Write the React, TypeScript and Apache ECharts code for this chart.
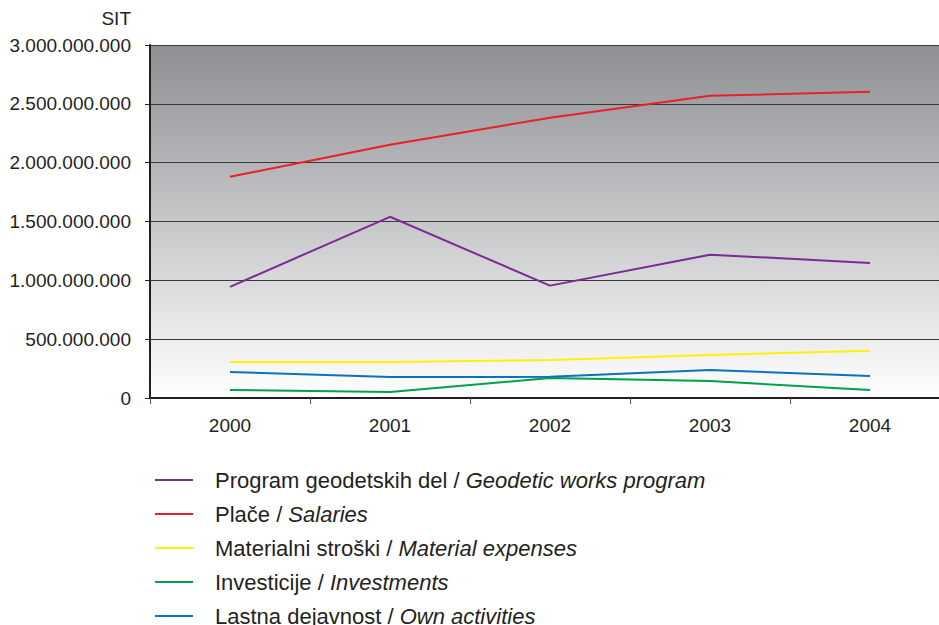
import React, { useEffect, useRef } from "react";
import * as echarts from "echarts";

const years = ["2000", "2001", "2002", "2003", "2004"];
const programGeodetic = [945e6, 1540e6, 955e6, 1218e6, 1148e6];
const salaries = [1880e6, 2152e6, 2382e6, 2568e6, 2602e6];
const material = [306e6, 306e6, 323e6, 366e6, 402e6];
const investments = [68e6, 51e6, 170e6, 144e6, 68e6];
const ownActivities = [221e6, 178e6, 180e6, 238e6, 187e6];

const legendNames = [
  ["Program geodetskih del / ", "Geodetic works program"],
  ["Plače / ", "Salaries"],
  ["Materialni stroški / ", "Material expenses"],
  ["Investicije / ", "Investments"],
  ["Lastna dejavnost / ", "Own activities"],
];
const seriesData = [programGeodetic, salaries, material, investments, ownActivities];
const colors = ["#7b2c91", "#e8202a", "#fff200", "#00a14b", "#0a72c0"];

function fmt(v: number) {
  return String(Math.round(v)).replace(/\B(?=(\d{3})+(?!\d))/g, ".");
}

export default function App() {
  const ref = useRef<HTMLDivElement>(null);
  useEffect(() => {
    const chart = echarts.init(ref.current!, null, { renderer: "svg" });
    const font = "'Liberation Sans', Arial, sans-serif";
    chart.setOption({
      animation: false,
      textStyle: { fontFamily: font },
      graphic: [
        {
          type: "text",
          x: 131,
          y: 18,
          style: {
            text: "SIT",
            fill: "#231f20",
            font: `19px ${font}`,
            align: "right",
            verticalAlign: "middle",
          },
        },
      ],
      grid: {
        left: 150,
        top: 45,
        width: 800,
        height: 353,
        containLabel: false,
        show: true,
        borderWidth: 0,
        backgroundColor: new echarts.graphic.LinearGradient(0, 0, 0, 1, [
          { offset: 0, color: "#8e8f93" },
          { offset: 1, color: "#ffffff" },
        ]),
      },
      xAxis: {
        type: "category",
        data: years,
        boundaryGap: true,
        axisLine: { lineStyle: { color: "#231f20", width: 2 } },
        axisTick: { show: true, length: 6, lineStyle: { color: "#555", width: 1 } },
        axisLabel: { color: "#231f20", fontSize: 19, margin: 18, fontFamily: font },
      },
      yAxis: {
        type: "value",
        min: 0,
        max: 3000000000,
        interval: 500000000,
        axisLine: { show: true, lineStyle: { color: "#231f20", width: 2 } },
        axisTick: { show: true, length: 5, lineStyle: { color: "#231f20", width: 1 } },
        splitLine: { show: true, lineStyle: { color: "#3a3a3a", width: 1 } },
        axisLabel: {
          color: "#231f20",
          fontSize: 19,
          margin: 19,
          fontFamily: font,
          formatter: (v: number) => fmt(v),
        },
      },
      legend: {
        orient: "vertical",
        left: 155,
        top: 469,
        height: 200,
        padding: 0,
        icon: "rect",
        itemWidth: 38,
        itemHeight: 2,
        itemGap: 12,
        data: legendNames.map((n) => n[0] + n[1]),
        formatter: (name: string) => {
          const item = legendNames.find((n) => n[0] + n[1] === name)!;
          return `{g|}{a|${item[0]}}{b|${item[1]}}`;
        },
        textStyle: {
          rich: {
            g: { width: 17, height: 22 },
            a: { fontSize: 22, color: "#231f20", fontFamily: font, lineHeight: 22 },
            b: { fontSize: 22, color: "#231f20", fontFamily: font, fontStyle: "italic", lineHeight: 22 },
          },
        },
      },
      series: seriesData.map((d, i) => ({
        type: "line",
        name: legendNames[i][0] + legendNames[i][1],
        data: d,
        symbol: "none",
        lineStyle: { color: colors[i], width: 2 },
        itemStyle: { color: colors[i] },
      })),
    });
    return () => chart.dispose();
  }, []);
  return (
    <div style={{ width: 939, height: 625, position: "absolute", left: 0, top: 0, overflow: "hidden" }}>
      <div ref={ref} style={{ width: 970, height: 625 }} />
    </div>
  );
}
